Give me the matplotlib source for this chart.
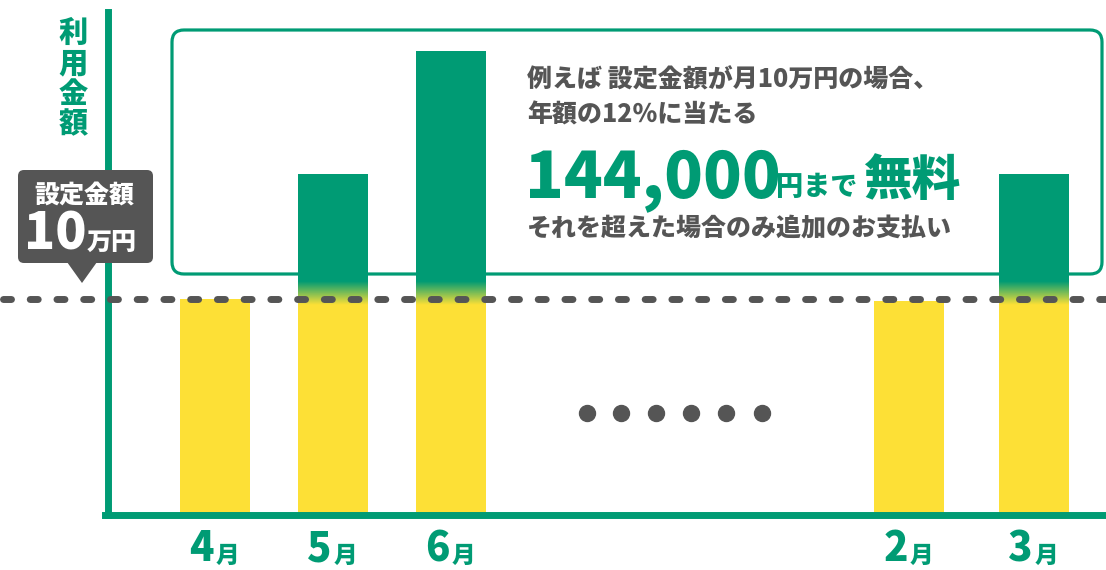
import numpy as np
import matplotlib.pyplot as plt
import matplotlib.transforms as mtransforms
from matplotlib.patches import FancyBboxPatch, Polygon
from matplotlib.colors import LinearSegmentedColormap

plt.rcParams['font.family'] = ['Noto Sans CJK JP', 'DejaVu Sans']
plt.rcParams['font.weight'] = 'bold'

# data
months = ['4', '5', '6', '2', '3']
usage = [100000, 158000, 215000, 99000, 158000]   # 利用金額 (円)
limit = 100000                                     # 設定金額
n_dots = 6

GREEN = '#009b74'
YELLOW = '#fde036'
GRAY = '#555555'
HEAVY = 'heavy'

W, H = 1106, 570
# layout in pixels
bar_x = [215, 332.5, 450.5, 909, 1033.5]
bar_w = 70
dot_x = [587, 621, 656, 691, 726, 762]
y_base = 515
px_per_yen = 216 / 100000

fig = plt.figure(figsize=(W / 100, H / 100), dpi=100)
ax = fig.add_axes([0, 0, 1, 1])
# pixel coords, origin top-left
px = mtransforms.Affine2D().scale(1 / W, -1 / H).translate(0, 1) + fig.transFigure

# callout box behind the bars
ax.add_patch(FancyBboxPatch((172, 30), 930, 244, boxstyle='round,pad=0,rounding_size=12',
                            transform=px, fc='white', ec=GREEN, lw=2.3, zorder=1))

# bars: yellow up to the limit, green above, with a soft blend
grad_cmap = LinearSegmentedColormap.from_list('blend', [YELLOW, GREEN])
grad = np.linspace(0, 1, 64).reshape(-1, 1)
for x, v in zip(bar_x, usage):
    ax.bar(x, min(v, limit), width=bar_w, color=YELLOW, zorder=2)
    if v > limit:
        ax.bar(x, v - limit, bottom=limit, width=bar_w, color=GREEN, zorder=2)
        ax.imshow(grad, extent=[x - bar_w / 2, x + bar_w / 2, limit * 0.97, limit * 1.08],
                  origin='lower', aspect='auto', cmap=grad_cmap, zorder=3)

ax.set_xlim(0, W)
ax.set_ylim(-(H - y_base) / px_per_yen, y_base / px_per_yen)

# 設定金額 line
ax.plot([3, W], [limit, limit], color=GRAY, lw=5, dashes=(1.15, 2.7),
        dash_capstyle='round', zorder=4)

# dots
ax.plot(dot_x, [413] * n_dots, 'o', ms=11.5, color=GRAY, transform=px, zorder=4)

# axes lines
for s in ['top', 'right']:
    ax.spines[s].set_visible(False)
ax.spines['left'].set_position(('data', 108))
ax.spines['left'].set_bounds(0, (y_base - 12) / px_per_yen)
ax.spines['bottom'].set_position(('data', 0))
ax.spines['bottom'].set_bounds(105, W)
for s in ['left', 'bottom']:
    ax.spines[s].set_color(GREEN)
    ax.spines[s].set_linewidth(5)
ax.set_xticks([])
ax.set_yticks([])

# month labels
xlab = ax.get_xaxis_transform()
for x, m in zip(bar_x, months):
    ax.text(x - 1, 1 - 561 / H, m, transform=xlab, ha='right', va='baseline',
            fontsize=29, color=GREEN, fontweight=HEAVY)
    ax.text(x + 1, 1 - 563 / H, '月', transform=xlab, ha='left', va='baseline',
            fontsize=17, color=GREEN, fontweight=HEAVY)

# y label, stacked vertically
for i, ch in enumerate('利用金額'):
    ax.text(73, 33 + i * 30.5, ch, transform=px, ha='center', va='center',
            fontsize=21, color=GREEN, fontweight=HEAVY)

# 設定金額 tag
ax.add_patch(FancyBboxPatch((18, 170), 135, 93, boxstyle='round,pad=0,rounding_size=6',
                            transform=px, fc=GRAY, ec='none', zorder=5))
ax.add_patch(Polygon([(67, 262), (97, 262), (82, 283)], closed=True, transform=px,
                     fc=GRAY, ec='none', zorder=5))
ax.text(84, 195, '設定金額', transform=px, ha='center', va='center',
        fontsize=18, color='white', fontweight=HEAVY, zorder=6)
ax.text(87, 250, '10', transform=px, ha='right', va='baseline',
        fontsize=37, color='white', fontweight=HEAVY, zorder=6)
ax.text(87, 250, '万円', transform=px, ha='left', va='baseline',
        fontsize=18, color='white', fontweight=HEAVY, zorder=6)

# callout text
ax.text(527, 80, '例えば 設定金額が月10万円の場合、', transform=px, ha='left', va='center',
        fontsize=18, color=GRAY, fontweight=HEAVY)
ax.text(527, 115, '年額の12％に当たる', transform=px, ha='left', va='center',
        fontsize=18, color=GRAY, fontweight=HEAVY)
ax.text(525, 197, '144,000', transform=px, ha='left', va='baseline',
        fontsize=46, color=GREEN, fontweight=HEAVY)
ax.text(776, 195, '円まで', transform=px, ha='left', va='baseline',
        fontsize=19.5, color=GREEN, fontweight=HEAVY)
ax.text(863, 195, '無料', transform=px, ha='left', va='baseline',
        fontsize=35, color=GREEN, fontweight=HEAVY)
ax.text(527, 228, 'それを超えた場合のみ追加のお支払い', transform=px, ha='left', va='center',
        fontsize=18, color=GRAY, fontweight=HEAVY)

fig.savefig('out.png', dpi=100)
